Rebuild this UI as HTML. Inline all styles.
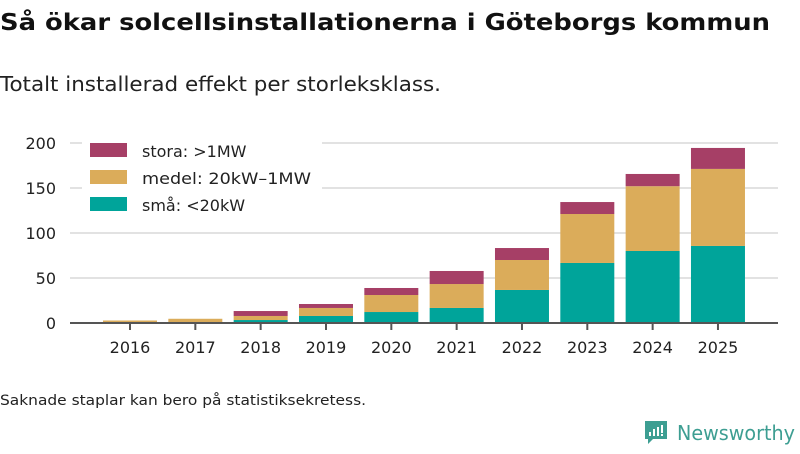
<!DOCTYPE html>
<html><head><meta charset="utf-8"><style>
body{margin:0;width:800px;height:450px;background:#fff;font-family:"DejaVu Sans","Liberation Sans",sans-serif;overflow:hidden}
</style></head><body>
<svg width="800" height="450" xmlns="http://www.w3.org/2000/svg" font-family="DejaVu Sans, Liberation Sans, sans-serif">
<text x="0" y="30" font-size="23" font-weight="bold" fill="#111" textLength="770" lengthAdjust="spacingAndGlyphs">Så ökar solcellsinstallationerna i Göteborgs kommun</text>
<text x="0" y="91" font-size="20" fill="#222" textLength="441" lengthAdjust="spacingAndGlyphs">Totalt installerad effekt per storleksklass.</text>
<g id="grid"></g>
<g id="bars"></g>
<g id="axis"></g>
<rect x="82" y="138" width="240" height="82" fill="#fff"/>
<g>
<rect x="90" y="143" width="37" height="14" fill="#a63f66"/>
<text x="142" y="157" font-size="16" fill="#222">stora: &gt;1MW</text>
<rect x="90" y="170" width="37" height="14" fill="#dbac5a"/>
<text x="142" y="184" font-size="16" fill="#222" textLength="169" lengthAdjust="spacingAndGlyphs">medel: 20kW–1MW</text>
<rect x="90" y="197" width="37" height="14" fill="#00a49a"/>
<text x="142" y="211" font-size="16" fill="#222">små: &lt;20kW</text>
</g>
<text x="0" y="405" font-size="14" fill="#222" textLength="366" lengthAdjust="spacingAndGlyphs">Saknade staplar kan bero på statistiksekretess.</text>
<g>
<path d="M645 421 h22 v18 h-14 l-5 5 v-5 h-3 z" fill="#3d9e92"/>
<rect x="649" y="432" width="2" height="4" fill="#fff"/><rect x="653" y="429" width="2" height="7" fill="#fff"/><rect x="657" y="427" width="2" height="9" fill="#fff"/><rect x="661" y="425" width="2" height="8" fill="#fff"/><rect x="661" y="434" width="2" height="2" fill="#fff"/>
<text x="677" y="440" font-size="20" fill="#3d9e92" textLength="118" lengthAdjust="spacingAndGlyphs">Newsworthy</text>
</g>
</svg>
<script>
const years=["2016","2017","2018","2019","2020","2021","2022","2023","2024","2025"];
const sma=[0.4,1.1,3.3,7.8,12.2,16.7,36.7,66.7,80,85.6];
const medel=[2.4,3.6,4.5,8.9,18.9,26.6,33.3,54.4,72,85.6];
const stora=[0,0,5.5,4.4,7.8,14.5,13.3,13.3,13.6,23.3];
const yTicks=[0,50,100,150,200];
const NS="http://www.w3.org/2000/svg";
const y=v=>323-v*0.9;
const x=i=>130+i*65.33;
const bw=54;
function mk(tag,attrs,parent){const e=document.createElementNS(NS,tag);for(const k in attrs)e.setAttribute(k,attrs[k]);document.getElementById(parent).appendChild(e);return e;}
yTicks.forEach(t=>{
 if(t>0){const l=mk('line',{x1:70,x2:778,y1:y(t),y2:y(t),stroke:'#e2e2e2','stroke-width':2},'grid');
 
 }
 const tx=mk('text',{x:56,y:y(t)+6,'font-size':16,fill:'#222','text-anchor':'end'},'axis');tx.textContent=t;
 
 
});
const series=[[sma,'#00a49a','sma'],[medel,'#dbac5a','medel'],[stora,'#a63f66','stora']];
years.forEach((yr,i)=>{
 let base=0;
 series.forEach(([arr,c,n])=>{
  const v=arr[i];if(v<=0)return;
  const r=mk('rect',{x:x(i)-bw/2,y:y(base+v),width:bw,height:v*0.9,fill:c},'bars');
  
  
  base+=v;
 });
 const tk=mk('line',{x1:x(i),x2:x(i),y1:323,y2:330,stroke:'#555','stroke-width':2},'axis');
 
 
 const lb=mk('text',{x:x(i),y:353,'font-size':16,fill:'#222','text-anchor':'middle'},'axis');lb.textContent=yr;
 
 
});
const ax=mk('line',{x1:70,x2:778,y1:323,y2:323,stroke:'#555','stroke-width':2},'axis');


</script>
</body></html>
